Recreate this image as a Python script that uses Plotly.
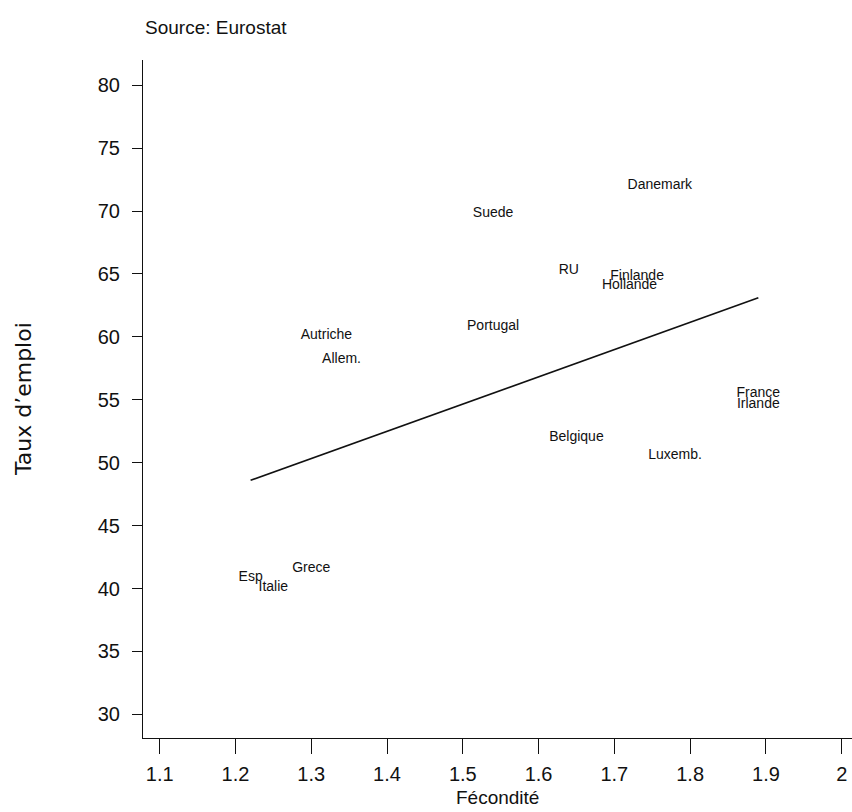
import plotly.graph_objects as go

# Fécondité vs taux d'emploi, pays de l'UE-15
pays = ["Danemark", "Suede", "RU", "Finlande", "Hollande", "Portugal",
        "Autriche", "Allem.", "France", "Irlande", "Belgique", "Luxemb.",
        "Grece", "Esp", "Italie"]
fecondite = [1.76, 1.54, 1.64, 1.73, 1.72, 1.54,
             1.32, 1.34, 1.89, 1.89, 1.65, 1.78,
             1.30, 1.22, 1.25]
taux_emploi = [72.0, 69.8, 65.3, 64.8, 64.1, 60.8,
               60.1, 58.2, 55.5, 54.6, 52.0, 50.6,
               41.6, 40.9, 40.1]

# droite d'ajustement linéaire (extrémités)
fit_x = [1.22, 1.89]
fit_y = [48.6, 63.1]

x_ticks = [1.1, 1.2, 1.3, 1.4, 1.5, 1.6, 1.7, 1.8, 1.9, 2.0]
x_tick_labels = ["1.1", "1.2", "1.3", "1.4", "1.5", "1.6", "1.7", "1.8", "1.9", "2"]
y_ticks = [30, 35, 40, 45, 50, 55, 60, 65, 70, 75, 80]

SANS = "Liberation Sans, Arial, sans-serif"
INK = "#111111"

fig = go.Figure()

fig.add_trace(go.Scatter(
    x=fit_x, y=fit_y, mode="lines",
    line=dict(color=INK, width=1.6),
    hoverinfo="skip", showlegend=False,
))

fig.add_trace(go.Scatter(
    x=fecondite, y=taux_emploi, mode="text", text=pays,
    textposition="middle center",
    textfont=dict(family=SANS, size=14, color=INK),
    cliponaxis=False, showlegend=False,
))

fig.update_layout(
    width=852, height=812,
    margin=dict(l=143, r=0, t=60, b=74),
    paper_bgcolor="white", plot_bgcolor="white",
    font=dict(family=SANS, color=INK),
    xaxis=dict(
        range=[1.078, 2.0136], tickvals=x_ticks, ticktext=x_tick_labels,
        showgrid=False, zeroline=False,
        showline=True, linecolor=INK, linewidth=1,
        ticks="outside", ticklen=15, tickcolor=INK, tickwidth=1,
        tickfont=dict(family=SANS, size=20, color=INK),
        ticklabelstandoff=3,
    ),
    yaxis=dict(
        range=[28.12, 82.0], tickvals=y_ticks,
        showgrid=False, zeroline=False,
        showline=True, linecolor=INK, linewidth=1,
        ticks="outside", ticklen=10, tickcolor=INK, tickwidth=1,
        tickfont=dict(family=SANS, size=20, color=INK),
        ticklabelstandoff=8,
    ),
    annotations=[
        dict(text="Fécondité", xref="paper", yref="paper",
             x=0.5, y=-(798 - 738) / 678, xanchor="center", yanchor="middle",
             showarrow=False, font=dict(family=SANS, size=19, color=INK)),
        dict(text="Taux d’emploi", xref="paper", yref="paper",
             x=-(143 - 23) / 709, y=0.5, xanchor="center", yanchor="middle",
             textangle=-90, showarrow=False,
             font=dict(family="DejaVu Sans, sans-serif", size=22, color=INK)),
        dict(text="Source: Eurostat", xref="paper", yref="paper",
             x=0.0, y=1 + (60 - 27) / 678, xanchor="left", yanchor="middle",
             xshift=0, showarrow=False,
             font=dict(family=SANS, size=19, color=INK)),
    ],
)

fig.write_html("out.html")
